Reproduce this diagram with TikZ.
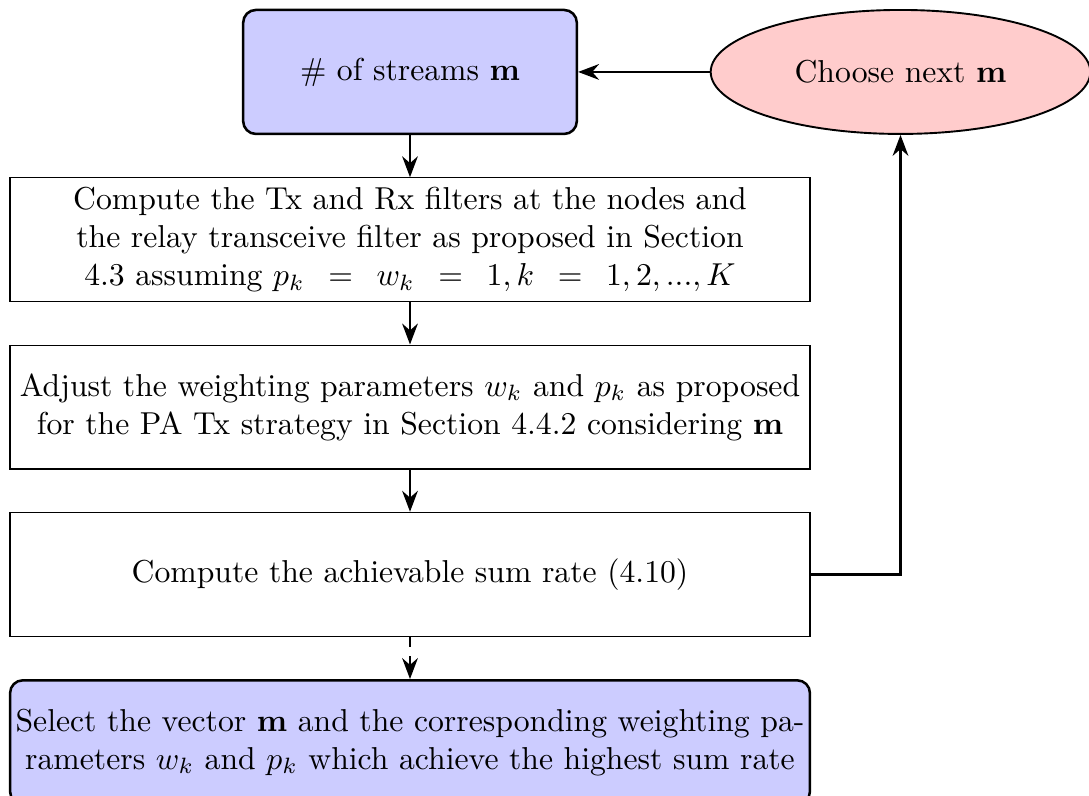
\documentclass[tikz,border=0pt]{standalone}
\usepackage{amsmath,amssymb}
\usepackage{tikz}
\usetikzlibrary{arrows.meta,positioning,shapes}
\usepackage{xcolor}

\begin{document}
\begin{tikzpicture}[>=Stealth,
    stepbox/.style={draw,rectangle,text width=8.75cm,minimum height=1.375cm,align=center,inner sep=0.06cm},
    startbox/.style={draw,thick,rounded corners,fill=blue!20,minimum width=3.7cm,minimum height=1.375cm},
    choicebox/.style={draw,semithick,ellipse,fill=red!20,minimum width=4.21cm,minimum height=1.375cm},
    flow/.style={->,thick}]
  \useasboundingbox (-4.547,0.798) rectangle (7.530,-8.029);

  % Main loop
  \node[startbox] (streams) at (0,0) {\# of streams $\mathbf{m}$};
  \node[stepbox,below=0.466cm of streams] (filters)
    {Compute the Tx and Rx filters at the nodes and\\
     the relay transceive filter as proposed in Section\\
     4.3 assuming $p_k\,=\,w_k\,=\,1, k\,=\,1,2,...,K$};
  \node[stepbox,below=0.466cm of filters] (weights)
    {Adjust the weighting parameters $w_k$ and $p_k$ as proposed\\
     for the PA Tx strategy in Section 4.4.2 considering $\mathbf{m}$};
  \node[stepbox,below=0.466cm of weights] (rate)
    {Compute the achievable sum rate (4.10)};
  \node[stepbox,thick,rounded corners,fill=blue!20,below=0.466cm of rate] (select)
    {Select the vector $\mathbf{m}$ and the corresponding weighting pa-\\
     rameters $w_k$ and $p_k$ which achieve the highest sum rate};

  % Next choice
  \node[choicebox,right=1.46cm of streams] (next) {Choose next $\mathbf{m}$};

  \draw[flow] (streams) -- (filters);
  \draw[flow] (filters) -- (weights);
  \draw[flow] (weights) -- (rate);
  \draw[flow,dashed] (rate) -- (select);
  \draw[flow] (rate.east) -| (next.south);
  \draw[flow] (next) -- (streams);
\end{tikzpicture}
\end{document}
